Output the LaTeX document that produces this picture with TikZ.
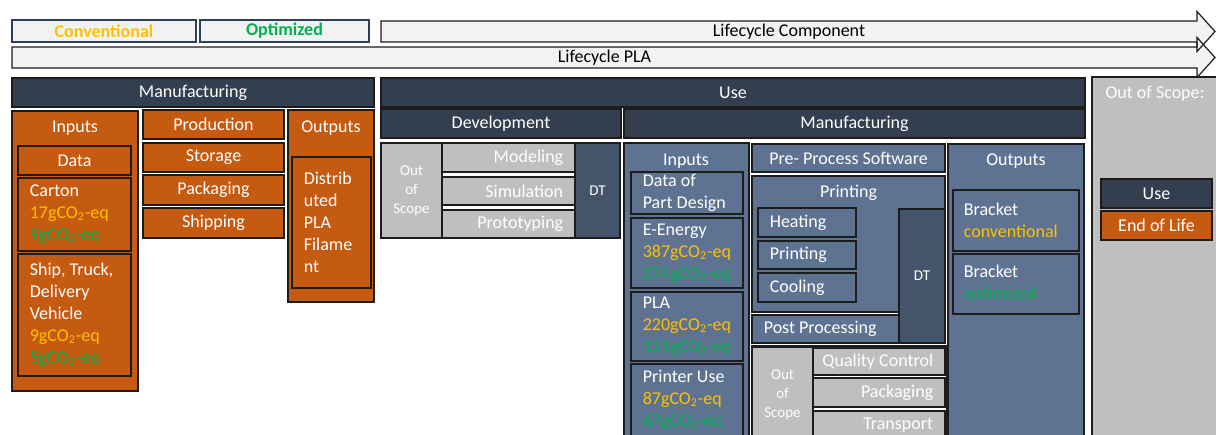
\documentclass[tikz,border=0pt]{standalone}
\usepackage{fontspec}
\setmainfont{Carlito}
\usepackage{tikz}
\usetikzlibrary{fit}

\definecolor{navy}{HTML}{333F4F}
\definecolor{slate}{HTML}{5E7392}
\definecolor{dtblue}{HTML}{44546A}
\definecolor{rust}{HTML}{C55A11}
\definecolor{oosgrey}{HTML}{BFBFBF}
\definecolor{paper}{HTML}{F2F2F2}
\definecolor{convcol}{HTML}{FFC000}
\definecolor{optcol}{HTML}{00B050}
\definecolor{rim}{HTML}{1C1C1C}
\definecolor{legrim}{HTML}{2F3E5A}

\newcommand{\coeq}[1]{#1gCO\textsubscript{2}-eq}

\begin{document}
\begin{tikzpicture}[x=0.5pt, y=-0.5pt,
    cellbox/.style={draw=rim, line width=0.6pt, inner sep=0pt},
    navybox/.style={cellbox, fill=navy},
    rustbox/.style={cellbox, fill=rust},
    slatebox/.style={cellbox, fill=slate},
    dtbox/.style={cellbox, fill=dtblue},
    greybox/.style={cellbox, fill=oosgrey},
    legbox/.style={draw=legrim, line width=0.6pt, fill=paper, inner sep=0pt},
    lbl/.style={inner sep=0pt, text=white, font=\fontsize{9}{11}\selectfont, align=left},
    small/.style={lbl, align=center, font=\fontsize{7.5}{9.5}\selectfont},
    lifearrow/.style={draw=rim, line width=0.6pt}
    ]

    \fill[white] (0,0) rectangle (1216,434);
    \clip (0,0) rectangle (1216,434);

    % legend
    \node[legbox, fit={(12,20) (196,42)}] (conv) {};
    \node[legbox, fit={(200,20) (369,42)}] (opt) {};
    \node[lbl, text=convcol, font=\fontsize{9}{11}\selectfont\bfseries] (convLbl) at (conv.center) {Conventional};
    \node[lbl, text=optcol, font=\fontsize{9}{11}\selectfont\bfseries] (optLbl) at (opt.center) {Optimized};

    % lifecycle arrows
    \fill[paper] (381,21) -- (1197,21) -- (1197,11.5) -- (1215,31.5) -- (1197,51.5) -- (1197,42) -- (381,42) -- cycle;
    \fill[paper] (12,47) -- (1197,47) -- (1197,37.5) -- (1215,57.5) -- (1197,77.5) -- (1197,68) -- (12,68) -- cycle;
    \draw[lifearrow] (381,21) -- (1197,21) -- (1197,11.5) -- (1215,31.5) -- (1197,51.5) -- (1197,42) -- (381,42) -- cycle;
    \draw[lifearrow] (12,47) -- (1197,47) -- (1197,37.5) -- (1215,57.5) -- (1197,77.5) -- (1197,68) -- (12,68) -- cycle;
    \node[lbl, text=black] (compLbl) at (789,31.5) {Lifecycle Component};
    \node[lbl, text=black] (plaLbl) at (604.5,57.5) {Lifecycle PLA};

    % phase headers
    \node[navybox, fit={(12,78) (374,107)}] (mfg) {};
    \node[lbl] (mfgLbl) at (mfg.center) {Manufacturing};
    \node[navybox, fit={(381,78) (1085,107)}] (use) {};
    \node[lbl] (useLbl) at (use.center) {Use};
    \node[greybox, fit={(1092,77) (1222,440)}] (oos) {};
    \node[lbl] (oosLbl) at (1155,94) {Out of Scope:};
    \node[navybox, fit={(1101,179) (1212,208)}] (useOos) {};
    \node[lbl] (useOosLbl) at (useOos.center) {Use};
    \node[rustbox, fit={(1101,211) (1212,240)}] (eol) {};
    \node[lbl] (eolLbl) at (eol.center) {End of Life};

    % manufacturing of the filament
    \node[rustbox, fit={(12,111) (138,391)}] (inL) {};
    \node[lbl] (inLLbl) at (75,128) {Inputs};
    \node[rustbox, fit={(18,146) (131,175)}] (dataL) {};
    \node[lbl] (dataLLbl) at (dataL.center) {Data};
    \node[rustbox, fit={(18,178) (131,251)}] (carton) {};
    \node[lbl, anchor=west] (cartonTxt) at ([xshift=6pt]carton.west)
        {Carton\\\textcolor{convcol}{\coeq{17}}\\\textcolor{optcol}{\coeq{9}}};
    \node[rustbox, fit={(18,254) (131,376)}] (ship) {};
    \node[lbl, anchor=west] (shipTxt) at ([xshift=6pt]ship.west)
        {Ship, Truck,\\Delivery\\Vehicle\\\textcolor{convcol}{\coeq{9}}\\\textcolor{optcol}{\coeq{5}}};
    \node[rustbox, fit={(143,110) (284,139)}] (prod) {};
    \node[rustbox, fit={(143,143) (284,172)}] (stor) {};
    \node[rustbox, fit={(143,175) (284,205)}] (pack) {};
    \node[rustbox, fit={(143,208) (284,238)}] (shipg) {};
    \node[lbl] (prodLbl) at (prod.center) {Production};
    \node[lbl] (storLbl) at (stor.center) {Storage};
    \node[lbl] (packLbl) at (pack.center) {Packaging};
    \node[lbl] (shipgLbl) at (shipg.center) {Shipping};
    \node[rustbox, fit={(288,110) (374,302)}] (outL) {};
    \node[lbl] (outLLbl) at (331,128) {Outputs};
    \node[rustbox, fit={(292,157) (371,288)}] (dist) {};
    \node[lbl, anchor=west] (distTxt) at ([xshift=6pt]dist.west)
        {Distrib\\uted\\PLA\\Filame\\nt};

    % development
    \node[navybox, fit={(381,109) (621,138)}] (dev) {};
    \node[lbl] (devLbl) at (dev.center) {Development};
    \node[greybox, fit={(381,143) (442,238)}] (devOos) {};
    \node[small] (devOosLbl) at (devOos.center) {Out\\of\\Scope};
    \node[greybox, fit={(442,143) (575,172)}] (model) {};
    \node[greybox, fit={(442,177) (575,205)}] (simu) {};
    \node[greybox, fit={(442,210) (575,238)}] (proto) {};
    \node[lbl, anchor=east] (modelLbl) at ([xshift=-6pt]model.east) {Modeling};
    \node[lbl, anchor=east] (simuLbl) at ([xshift=-6pt]simu.east) {Simulation};
    \node[lbl, anchor=east] (protoLbl) at ([xshift=-6pt]proto.east) {Prototyping};
    \node[dtbox, fit={(575,143) (620,238)}] (devDT) {};
    \node[small] (devDTLbl) at (devDT.center) {DT};

    % manufacturing of the part
    \node[navybox, fit={(624,109) (1085,138)}] (umfg) {};
    \node[lbl] (umfgLbl) at (umfg.center) {Manufacturing};
    \node[slatebox, fit={(624,143) (749,445)}] (inU) {};
    \node[lbl] (inULbl) at (686,161) {Inputs};
    \node[slatebox, fit={(631,172) (743,214)}] (part) {};
    \node[lbl, anchor=west] (partTxt) at ([xshift=6pt]part.west) {Data of\\Part Design};
    \node[slatebox, fit={(631,218) (743,288)}] (energy) {};
    \node[lbl, anchor=west] (energyTxt) at ([xshift=6pt]energy.west)
        {E-Energy\\\textcolor{convcol}{\coeq{387}}\\\textcolor{optcol}{\coeq{274}}};
    \node[slatebox, fit={(631,292) (743,361)}] (pla) {};
    \node[lbl, anchor=west] (plaTxt) at ([xshift=6pt]pla.west)
        {PLA\\\textcolor{convcol}{\coeq{220}}\\\textcolor{optcol}{\coeq{121}}};
    \node[slatebox, fit={(631,364) (743,436)}] (printer) {};
    \node[lbl, anchor=west] (printerTxt) at ([xshift=6pt]printer.west)
        {Printer Use\\\textcolor{convcol}{\coeq{87}}\\\textcolor{optcol}{\coeq{67}}};

    \node[slatebox, fit={(752,144) (945,172)}] (pre) {};
    \node[lbl] (preLbl) at (pre.center) {Pre- Process Software};
    \node[slatebox, fit={(752,176) (945,312)}] (prt) {};
    \node[lbl] (prtLbl) at (848.5,193) {Printing};
    \node[slatebox, fit={(758,208) (856,237)}] (heat) {};
    \node[slatebox, fit={(758,241) (856,269)}] (prti) {};
    \node[slatebox, fit={(758,273) (856,302)}] (cool) {};
    \node[lbl, anchor=west] (heatLbl) at ([xshift=6pt]heat.west) {Heating};
    \node[lbl, anchor=west] (prtiLbl) at ([xshift=6pt]prti.west) {Printing};
    \node[lbl, anchor=west] (coolLbl) at ([xshift=6pt]cool.west) {Cooling};
    \node[dtbox, fit={(899,209) (945,343)}] (uDT) {};
    \node[small] (uDTLbl) at (uDT.center) {DT};
    \node[slatebox, fit={(752,315) (899,343)}] (post) {};
    \node[lbl, anchor=west] (postLbl) at ([xshift=6pt]post.west) {Post Processing};

    \node[cellbox, fit={(752,346) (947,445)}] (ppFrame) {};
    \node[greybox, fit={(752,347) (813,443)}] (uOos) {};
    \node[small] (uOosLbl) at (uOos.center) {Out\\of\\Scope};
    \node[greybox, fit={(813,348) (945,375)}] (qc) {};
    \node[greybox, fit={(813,378) (945,407)}] (upack) {};
    \node[greybox, fit={(813,411) (945,440)}] (trans) {};
    \node[lbl, anchor=east] (qcLbl) at ([xshift=-6pt]qc.east) {Quality Control};
    \node[lbl, anchor=east] (upackLbl) at ([xshift=-6pt]upack.east) {Packaging};
    \node[lbl, anchor=east] (transLbl) at ([xshift=-6pt]trans.east) {Transport};

    \node[slatebox, fit={(948,144) (1084,445)}] (outU) {};
    \node[lbl] (outULbl) at (1016,161) {Outputs};
    \node[slatebox, fit={(953,190) (1079,251)}] (brC) {};
    \node[lbl, anchor=west] (brCTxt) at ([xshift=5.5pt]brC.west)
        {Bracket\\\textcolor{convcol}{conventional}};
    \node[slatebox, fit={(953,254) (1079,314)}] (brO) {};
    \node[lbl, anchor=west] (brOTxt) at ([xshift=5.5pt]brO.west)
        {Bracket\\\textcolor{optcol}{optimized}};
\end{tikzpicture}
\end{document}
